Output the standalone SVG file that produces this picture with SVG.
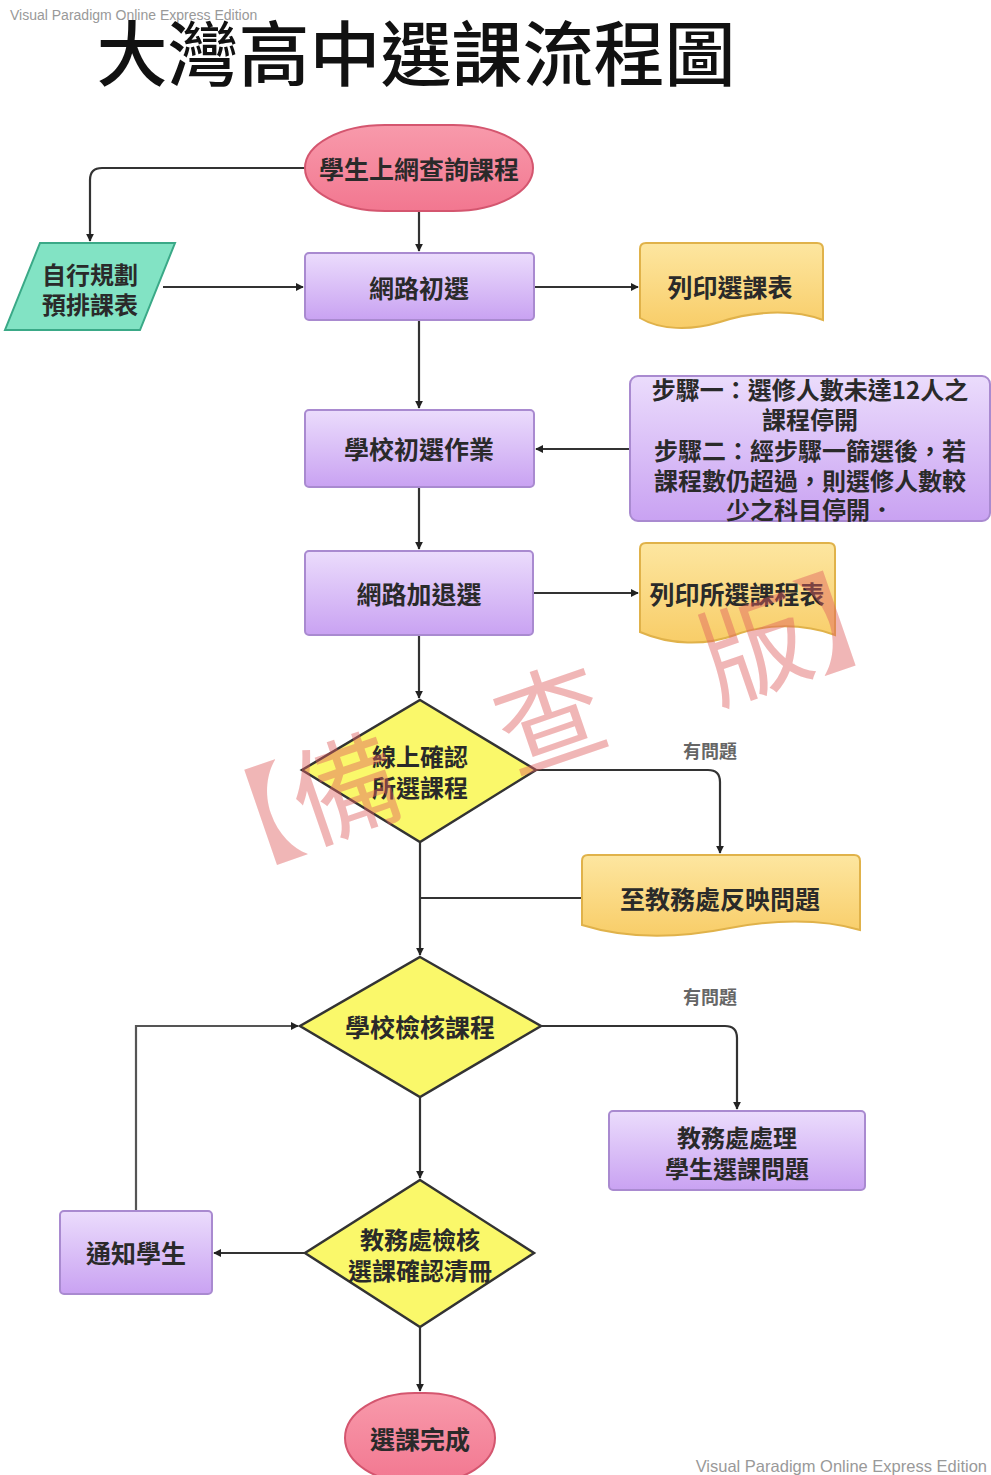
<svg xmlns="http://www.w3.org/2000/svg" width="991" height="1475" viewBox="0 0 991 1475">
<defs>
<linearGradient id="gPurple" x1="0" y1="0" x2="0" y2="1"><stop offset="0" stop-color="#ebdcfc"/><stop offset="1" stop-color="#c9a2f2"/></linearGradient>
<linearGradient id="gDoc" x1="0" y1="0" x2="0" y2="1"><stop offset="0" stop-color="#fde6a0"/><stop offset="1" stop-color="#f8cd68"/></linearGradient>
<linearGradient id="gPink" x1="0" y1="0" x2="0" y2="1"><stop offset="0" stop-color="#f89aab"/><stop offset="1" stop-color="#f27790"/></linearGradient>
<marker id="arr" viewBox="0 0 10 10" refX="9" refY="5" markerWidth="8" markerHeight="8" markerUnits="userSpaceOnUse" orient="auto"><path d="M0,0 L10,5 L0,10 Z" fill="#222"/></marker>
</defs>
<style>
.t{font-family:"Noto Sans CJK TC","Noto Sans CJK SC",sans-serif;font-weight:600;font-size:25px;fill:#2a2a2a;text-anchor:middle;dominant-baseline:central}
.s{font-size:24px}
.lbl{font-family:"Noto Sans CJK TC",sans-serif;font-weight:bold;font-size:18px;fill:#666;text-anchor:middle;dominant-baseline:central}
.proc{fill:url(#gPurple);stroke:#a98ad0;stroke-width:2}
.doc{fill:url(#gDoc);stroke:#e0b24a;stroke-width:2}
.dec{fill:#faf86a;stroke:#333;stroke-width:2.5}
.term{fill:url(#gPink);stroke:#d4566f;stroke-width:2}
.io{fill:#82e3c4;stroke:#3aa987;stroke-width:2}
.c{fill:none;stroke:#333;stroke-width:2.2}
.ca{fill:none;stroke:#333;stroke-width:2.2;marker-end:url(#arr)}
.wm{font-family:"Liberation Sans",Arial,sans-serif;font-size:14px;fill:#999}
.wm2{font-family:"Liberation Sans",Arial,sans-serif;font-size:16.5px;fill:#999;text-anchor:end}
</style>
<rect width="991" height="1475" fill="#fff"/>
<text class="wm" x="10" y="20">Visual Paradigm Online Express Edition</text>
<text x="416" y="49" font-family="Noto Sans CJK TC, Noto Sans CJK SC, sans-serif" font-size="71" font-weight="500" fill="#111" text-anchor="middle" dominant-baseline="central">大灣高中選課流程圖</text>

<g id="connectors">
<path class="ca" d="M305,168 H102 Q90,168 90,180 V241"/>
<path class="ca" d="M419,210 V251"/>
<path class="ca" d="M163,287 H303"/>
<path class="ca" d="M534,287 H638"/>
<path class="ca" d="M419,320 V408"/>
<path class="ca" d="M630,449 H536"/>
<path class="ca" d="M419,487 V549"/>
<path class="ca" d="M533,593 H638"/>
<path class="ca" d="M419,635 V698"/>
<path class="ca" d="M536,770 H708 Q720,770 720,782 V853"/>
<path class="ca" d="M420,842 V955"/>
<path class="c" d="M582,898 H420"/>
<path class="ca" d="M541,1026 H725 Q737,1026 737,1038 V1109"/>
<path class="ca" d="M420,1097 V1178"/>
<path class="ca" d="M305,1253 H214"/>
<path class="ca" d="M136,1211 V1026 H298" style="stroke:#555"/>
<path class="ca" d="M420,1327 V1391"/>
</g>

<g id="n_start"><rect class="term" x="305" y="125" width="228" height="86" rx="80" ry="43"/><text class="t" x="419" y="168">學生上網查詢課程</text></g>
<g id="n_self"><path class="io" d="M40,243 H175 L140,330 H5 Z"/><text class="t s" x="90" y="273">自行規劃</text><text class="t s" x="90" y="303">預排課表</text></g>
<g id="n_init"><rect class="proc" x="305" y="253" width="229" height="67" rx="4"/><text class="t" x="419" y="287">網路初選</text></g>
<g id="n_print1"><path class="doc" d="M640,249 Q640,243 646,243 H817 Q823,243 823,249 V320 C790,308 750,312 720,322 C690,331 660,330 640,318 Z"/><text class="t" x="730" y="286">列印選課表</text></g>
<g id="n_school"><rect class="proc" x="305" y="410" width="229" height="77" rx="4"/><text class="t" x="419" y="448">學校初選作業</text></g>
<g id="n_steps"><rect class="proc" x="630" y="376" width="360" height="145" rx="8"/>
<text class="t s" x="810" y="388">步驟一：選修人數未達12人之</text>
<text class="t s" x="810" y="418">課程停開</text>
<text class="t s" x="810" y="449">步驟二：經步驟一篩選後，若</text>
<text class="t s" x="810" y="479">課程數仍超過，則選修人數較</text>
<text class="t s" x="810" y="508">少之科目停開．</text></g>
<g id="n_add"><rect class="proc" x="305" y="551" width="228" height="84" rx="4"/><text class="t" x="419" y="593">網路加退選</text></g>
<g id="n_print2"><path class="doc" d="M640,549 Q640,543 646,543 H829 Q835,543 835,549 V635 C800,622 760,625 735,635 C705,646 670,645 640,632 Z"/><text class="t" x="737" y="593">列印所選課程表</text></g>
<g id="n_confirm"><path class="dec" d="M420,700 L536,770 L420,842 L302,770 Z"/><text class="t s" x="420" y="755">線上確認</text><text class="t s" x="420" y="786">所選課程</text></g>
<text class="lbl" x="710" y="750">有問題</text>
<g id="n_report"><path class="doc" d="M582,861 Q582,855 588,855 H854 Q860,855 860,861 V930 C820,918 770,920 730,928 C680,938 630,940 582,925 Z"/><text class="t" x="720" y="898">至教務處反映問題</text></g>
<g id="n_check"><path class="dec" d="M420,957 L541,1026 L420,1097 L300,1026 Z"/><text class="t" x="420" y="1026">學校檢核課程</text></g>
<text class="lbl" x="710" y="996">有問題</text>
<g id="n_handle"><rect class="proc" x="609" y="1111" width="256" height="79" rx="4"/><text class="t s" x="737" y="1136">教務處處理</text><text class="t s" x="737" y="1167">學生選課問題</text></g>
<g id="n_verify"><path class="dec" d="M420,1180 L534,1253 L420,1327 L305,1253 Z"/><text class="t s" x="420" y="1238">教務處檢核</text><text class="t s" x="420" y="1269">選課確認清冊</text></g>
<g id="n_notify"><rect class="proc" x="60" y="1211" width="152" height="83" rx="4"/><text class="t" x="136" y="1252">通知學生</text></g>
<g id="n_end"><rect class="term" x="345" y="1393" width="150" height="90" rx="70" ry="45"/><text class="t" x="420" y="1438">選課完成</text></g>

<text class="wm2" x="987" y="1472">Visual Paradigm Online Express Edition</text>
<text x="548" y="712" transform="rotate(-19 548 712)" font-family="Noto Sans CJK TC, Noto Sans CJK SC, sans-serif" font-size="108" fill="#e06060" opacity="0.45" text-anchor="middle" dominant-baseline="central">【備　查　版】</text>
</svg>
